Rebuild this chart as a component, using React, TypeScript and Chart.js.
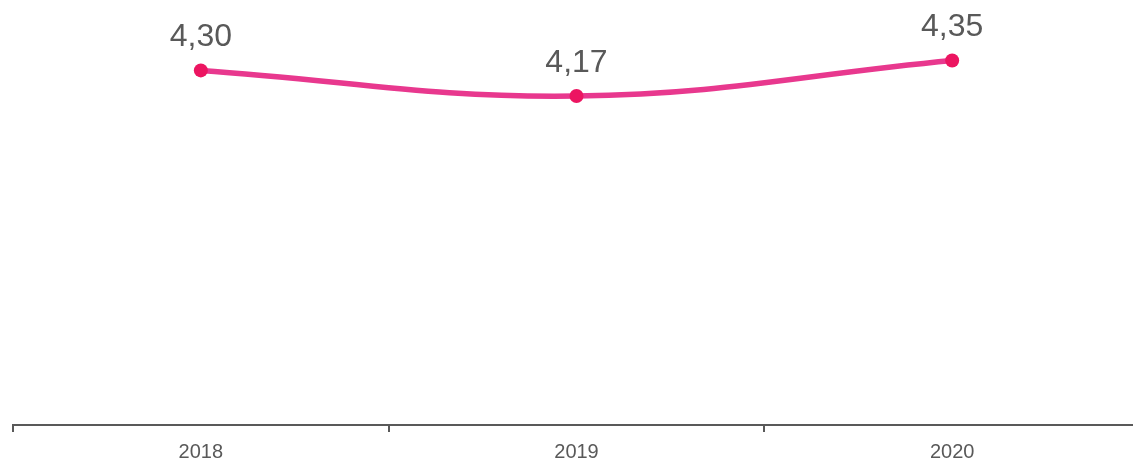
import React, { useEffect, useRef } from "react";
import { Chart, registerables } from "chart.js";

Chart.register(...registerables);

const categories = ["2018", "2019", "2020"];
const values = [4.3, 4.17, 4.35];
const valueLabels = ["4,30", "4,17", "4,35"];

const dataLabelPlugin = {
  id: "dataLabels",
  afterDatasetsDraw(chart: any) {
    const ctx = chart.ctx;
    const meta = chart.getDatasetMeta(0);
    ctx.save();
    ctx.fillStyle = "#595959";
    ctx.font = "32px 'Liberation Sans', Arial, sans-serif";
    ctx.textAlign = "center";
    ctx.textBaseline = "middle";
    meta.data.forEach((pt: any, i: number) => {
      ctx.fillText(valueLabels[i], pt.x, pt.y - 33);
    });
    ctx.restore();
  },
};

export default function App() {
  const ref = useRef<HTMLCanvasElement>(null);
  useEffect(() => {
    if (!ref.current) return;
    const chart = new Chart(ref.current, {
      type: "line",
      data: {
        labels: categories,
        datasets: [
          {
            data: values,
            borderColor: "#E8388E",
            borderWidth: 5.5,
            tension: 0.4,
            pointRadius: 7,
            pointHoverRadius: 7,
            pointBackgroundColor: "#EC1561",
            pointBorderColor: "#EC1561",
            pointBorderWidth: 0,
          },
        ],
      },
      options: {
        animation: false,
        responsive: false,
        maintainAspectRatio: false,
        layout: { padding: { left: 13, right: 5, top: 31, bottom: 0 } },
        plugins: { legend: { display: false }, tooltip: { enabled: false } },
        scales: {
          x: {
            offset: true,
            grid: {
              offset: true,
              drawOnChartArea: false,
              drawTicks: true,
              tickLength: 7,
              color: "#595959",
              lineWidth: 2,
            },
            border: { display: true, color: "#595959", width: 2 },
            ticks: {
              color: "#595959",
              padding: 8,
              font: { size: 20, family: "'Liberation Sans', Arial, sans-serif" },
            },
          },
          y: {
            display: false,
            min: 2.5,
            max: 4.5,
          },
        },
      },
      plugins: [dataLabelPlugin],
    });
    return () => chart.destroy();
  }, []);
  return (
    <div
      style={{
        position: "fixed",
        left: 0,
        top: 0,
        width: 1133,
        height: 462,
        overflow: "hidden",
        background: "#fff",
      }}
    >
      <canvas ref={ref} width={1147} height={472} style={{ display: "block" }} />
    </div>
  );
}
